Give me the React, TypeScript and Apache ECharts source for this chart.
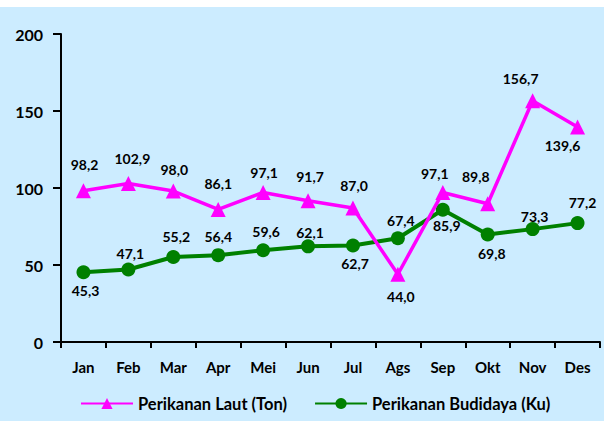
import React, { useEffect, useRef } from "react";
import * as echarts from "echarts";

const months = ["Jan", "Feb", "Mar", "Apr", "Mei", "Jun", "Jul", "Ags", "Sep", "Okt", "Nov", "Des"];
const lautValues = [98.2, 102.9, 98.0, 86.1, 97.1, 91.7, 87.0, 44.0, 97.1, 89.8, 156.7, 139.6];
const budidayaValues = [45.3, 47.1, 55.2, 56.4, 59.6, 62.1, 62.7, 67.4, 85.9, 69.8, 73.3, 77.2];
const seriesNames = ["Perikanan Laut (Ton)", "Perikanan Budidaya (Ku)"];
const yMin = 0;
const yMax = 200;
const yInterval = 50;

// label offsets (pixels, relative to the point) — styling only
const lautLabelOffsets: [number, number][] = [
  [1, -26], [4, -25], [1, -22], [0, -26], [1, -20], [2, -24],
  [1, -23], [3, 22], [-8, -19], [-12, -27], [-12, -22], [-15, 18],
];
const budidayaLabelOffsets: [number, number][] = [
  [2, 18], [2, -16], [3, -20], [0, -19], [3, -19], [2, -14],
  [2, 18], [3, -18], [4, 16], [4, 19], [2, -13], [5, -21],
];

const FONT = "Lato";
const fmt = (v: number) => v.toFixed(1).replace(".", ",");

export default function App() {
  const ref = useRef<HTMLDivElement>(null);
  useEffect(() => {
    if (!ref.current) return;
    const chart = echarts.init(ref.current, undefined, { renderer: "svg" });
    const labelBase = {
      show: true,
      position: "inside" as const,
      fontFamily: FONT,
      fontWeight: "bold" as const,
      fontSize: 14,
      color: "#000",
      formatter: (p: any) => fmt(p.value),
    };
    chart.setOption({
      animation: false,
      backgroundColor: "#ffffff",
      textStyle: { fontFamily: FONT },
      graphic: [
        {
          type: "rect",
          silent: true,
          z: -10,
          shape: { x: 0, y: 7, width: 604, height: 414 },
          style: { fill: "#CCECFF" },
        },
      ],
      grid: { left: 61, right: 4, top: 34, bottom: 79, containLabel: false },
      legend: {
        top: 390,
        left: 75,
        itemWidth: 52,
        itemHeight: 14,
        itemGap: 27,
        formatter: "{b|{name}}",
        textStyle: {
          fontFamily: FONT,
          fontWeight: "bold",
          fontSize: 16.5,
          color: "#000",
          rich: { b: { fontFamily: FONT, fontWeight: "bold", fontSize: 16.5, color: "#000" } },
        },
        data: seriesNames,
      },
      xAxis: {
        type: "category",
        data: months,
        boundaryGap: true,
        axisLine: { lineStyle: { color: "#000", width: 2 } },
        axisTick: { show: true, length: 6, lineStyle: { color: "#000", width: 2 } },
        axisLabel: { fontFamily: FONT, fontWeight: "bold", fontSize: 15, color: "#000", margin: 17, interval: 0 },
      },
      yAxis: {
        type: "value",
        min: yMin,
        max: yMax,
        interval: yInterval,
        splitLine: { show: false },
        axisLine: { show: true, lineStyle: { color: "#000", width: 2 } },
        axisTick: { show: true, length: 8, lineStyle: { color: "#000", width: 2 } },
        axisLabel: { fontFamily: FONT, fontWeight: "bold", fontSize: 16, color: "#000", margin: 18 },
      },
      series: [
        {
          name: seriesNames[0],
          type: "line",
          data: lautValues.map((v, i) => ({ value: v, label: { offset: lautLabelOffsets[i] } })),
          symbol: "triangle",
          symbolSize: 15,
          itemStyle: { color: "#FF00FF" },
          lineStyle: { color: "#FF00FF", width: 3.5 },
          label: labelBase,
          z: 3,
        },
        {
          name: seriesNames[1],
          type: "line",
          data: budidayaValues.map((v, i) => ({ value: v, label: { offset: budidayaLabelOffsets[i] } })),
          symbol: "circle",
          symbolSize: 14,
          itemStyle: { color: "#008000" },
          lineStyle: { color: "#008000", width: 4 },
          label: labelBase,
          z: 2,
        },
      ],
    });
    return () => chart.dispose();
  }, []);
  return (
    <div style={{ position: "absolute", left: 0, top: 0, width: 604, height: 421 }}>
      <div ref={ref} style={{ width: 604, height: 421 }} />
    </div>
  );
}
